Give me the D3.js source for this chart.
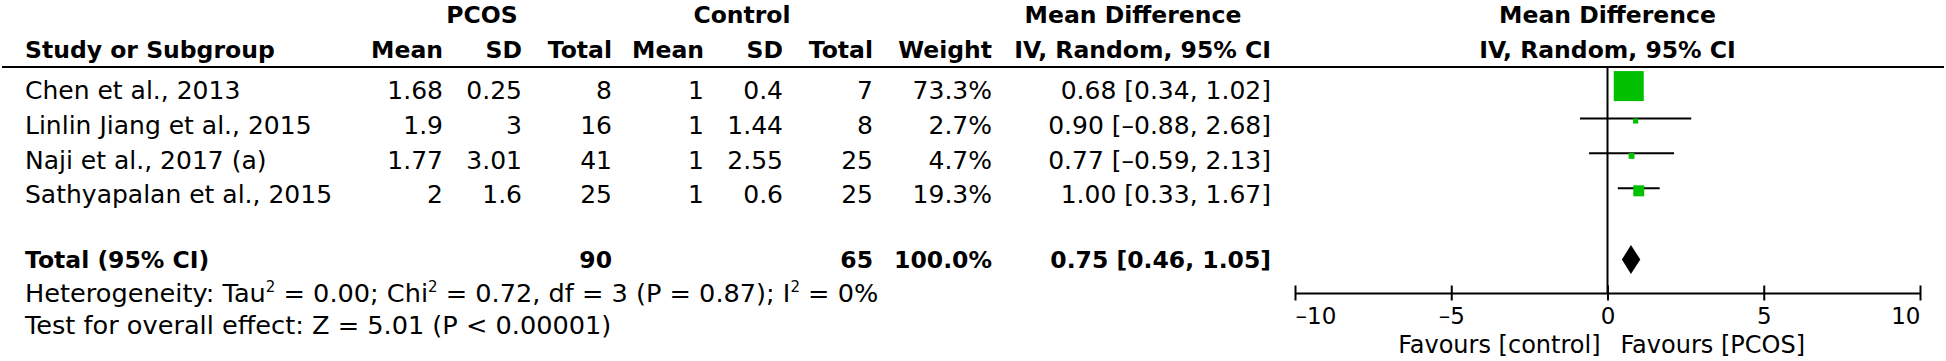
<!DOCTYPE html>
<html>
<head>
<meta charset="utf-8">
<script src="https://cdn.jsdelivr.net/npm/d3@7"></script>
<style>
  body { margin: 0; background: #fff; }
  svg { display: block; font-family: "DejaVu Sans", sans-serif; fill: #000; }
  .hd { font-weight: bold; font-size: 23.5px; }
  .rg { font-size: 25px; }
  .ft { font-size: 25.6px; }
</style>
</head>
<body>
<svg id="chart" width="1946" height="361"></svg>
<script>
// study data
const studies = ["Chen et al., 2013", "Linlin Jiang et al., 2015", "Naji et al., 2017 (a)", "Sathyapalan et al., 2015"];
const pcosMean = [1.68, 1.9, 1.77, 2];
const pcosSD = [0.25, 3, 3.01, 1.6];
const pcosN = [8, 16, 41, 25];
const ctrlMean = [1, 1, 1, 1];
const ctrlSD = [0.4, 1.44, 2.55, 0.6];
const ctrlN = [7, 8, 25, 25];
const weights = [73.3, 2.7, 4.7, 19.3];
const meanDiff = [0.68, 0.90, 0.77, 1.00];
const ciLow = [0.34, -0.88, -0.59, 0.33];
const ciHigh = [1.02, 2.68, 2.13, 1.67];

// pooled result
const totalN = [90, 65];
const totalWeight = 100.0;
const pooled = [0.75, 0.46, 1.05]; // estimate, low, high
const tau2 = "0.00", chi2 = "0.72", df = 3, pHet = "0.87", i2 = "0%";
const zVal = "5.01", pOverall = "< 0.00001";

const xTicks = [-10, -5, 0, 5, 10];
const favours = ["Favours [control]", "Favours [PCOS]"];

const svg = d3.select("#chart");
const fmt2 = v => d3.format(".2f")(Math.abs(v)).replace(/^/, v < 0 ? "\u2013" : "");
const ciText = (m, lo, hi) => `${fmt2(m)} [${fmt2(lo)}, ${fmt2(hi)}]`;

// table columns (right aligned)
const cols = [
    { head: "Mean", x: 443, val: i => String(pcosMean[i]) },
    { head: "SD", x: 522, val: i => String(pcosSD[i]) },
    { head: "Total", x: 612, val: i => String(pcosN[i]) },
    { head: "Mean", x: 704, val: i => String(ctrlMean[i]) },
    { head: "SD", x: 783, val: i => String(ctrlSD[i]) },
    { head: "Total", x: 873, val: i => String(ctrlN[i]) },
    { head: "Weight", x: 992, val: i => weights[i].toFixed(1) + "%" },
    { head: "IV, Random, 95% CI", x: 1271, val: i => ciText(meanDiff[i], ciLow[i], ciHigh[i]) }
];

const rowBase = d3.scaleLinear().domain([0, 1]).range([98.7, 133.6]);
const totalBase = 268;
const x = d3.scaleLinear().domain([-10, 10]).range([1295, 1920]);
const boxSize = d3.scaleLinear().domain([0, 100]).range([4.2, 39.4]);
const lineTop = 67, axisY = 293;

// group headers
[["PCOS", 482], ["Control", 742], ["Mean Difference", 1133], ["Mean Difference", x(0)]].forEach(([t, cx]) => {
    svg.append("text").attr("class", "hd").attr("x", cx).attr("y", 23).attr("text-anchor", "middle").text(t);
});
svg.append("text").attr("class", "hd").attr("x", 25).attr("y", 58).text("Study or Subgroup");
svg.selectAll(".colhead").data(cols).join("text").attr("class", "hd colhead")
    .attr("x", d => d.x).attr("y", 58).attr("text-anchor", "end").text(d => d.head);
svg.append("text").attr("class", "hd").attr("x", x(0)).attr("y", 58).attr("text-anchor", "middle").text("IV, Random, 95% CI");

svg.append("line").attr("x1", 2).attr("x2", 1944).attr("y1", lineTop).attr("y2", lineTop)
    .attr("stroke", "#000").attr("stroke-width", 2);

// study rows
const rows = svg.selectAll(".row").data(studies).join("g").attr("class", "row");
rows.append("text").attr("class", "rg").attr("x", 25).attr("y", (d, i) => rowBase(i)).text(d => d);
cols.forEach(c => {
    rows.append("text").attr("class", "rg").attr("x", c.x).attr("y", (d, i) => rowBase(i))
        .attr("text-anchor", "end").text((d, i) => c.val(i));
});

// total row
svg.append("text").attr("class", "hd").attr("x", 25).attr("y", totalBase).text("Total (95% CI)");
[[totalN[0], 612], [totalN[1], 873], [totalWeight.toFixed(1) + "%", 992], [ciText(...pooled), 1271]].forEach(([t, rx]) => {
    svg.append("text").attr("class", "hd").attr("x", rx).attr("y", totalBase).attr("text-anchor", "end").text(t);
});

// footnotes with superscripts
const het = svg.append("text").attr("class", "ft").attr("x", 25).attr("y", 302);
const hetParts = [["Heterogeneity: Tau", false], ["2", true], [` = ${tau2}; Chi`, false], ["2", true],
    [` = ${chi2}, df = ${df} (P = ${pHet}); I`, false], ["2", true], [` = ${i2}`, false]];
let raised = false;
hetParts.forEach(([t, sup]) => {
    const ts = het.append("tspan").text(t);
    if (sup) { ts.attr("font-size", 15).attr("dy", -10); raised = true; }
    else if (raised) { ts.attr("dy", 10); raised = false; }
});
svg.append("text").attr("class", "ft").attr("x", 25).attr("y", 334)
    .text(`Test for overall effect: Z = ${zVal} (P ${pOverall})`);

// forest plot
svg.append("line").attr("x1", x(0)).attr("x2", x(0)).attr("y1", lineTop).attr("y2", axisY)
    .attr("stroke", "#000").attr("stroke-width", 2);

const marks = svg.selectAll(".mark").data(studies).join("g").attr("class", "mark");
marks.append("line")
    .attr("x1", (d, i) => x(ciLow[i])).attr("x2", (d, i) => x(ciHigh[i]))
    .attr("y1", (d, i) => rowBase(i) - 15.2).attr("y2", (d, i) => rowBase(i) - 15.2)
    .attr("stroke", "#000").attr("stroke-width", 2);
marks.append("rect")
    .attr("x", (d, i) => x(meanDiff[i]) - boxSize(weights[i]) / 2)
    .attr("y", (d, i) => rowBase(i) - 12.6 - boxSize(weights[i]) / 2)
    .attr("width", (d, i) => boxSize(weights[i])).attr("height", (d, i) => boxSize(weights[i]))
    .attr("fill", "#00c000");

const dy = totalBase - 8.5;
svg.append("path").attr("fill", "#000")
    .attr("d", `M${x(pooled[1])},${dy} L${x(pooled[0])},${dy - 14.5} L${x(pooled[2])},${dy} L${x(pooled[0])},${dy + 14.5} Z`);

// axis
const axis = d3.axisBottom(x).tickValues(xTicks).tickSizeOuter(0)
    .tickFormat(d => d < 0 ? "\u2013" + Math.abs(d) : String(d));
const gAxis = svg.append("g").attr("transform", `translate(0,${axisY})`).call(axis)
    .attr("font-family", null).attr("font-size", 23);
gAxis.select(".domain").attr("stroke", "#000").attr("stroke-width", 2);
gAxis.selectAll(".tick line").attr("y1", -7.5).attr("y2", 7.5).attr("stroke", "#000").attr("stroke-width", 2);
gAxis.selectAll(".tick text").attr("y", 31).attr("dy", null).attr("fill", "#000")
    .attr("text-anchor", d => d === xTicks[0] ? "start" : d === xTicks[xTicks.length - 1] ? "end" : "middle");

svg.append("text").attr("x", x(0) - 7).attr("y", 353).attr("font-size", 24).attr("text-anchor", "end").text(favours[0]);
svg.append("text").attr("x", x(0) + 13).attr("y", 353).attr("font-size", 24).text(favours[1]);
</script>
</body>
</html>
